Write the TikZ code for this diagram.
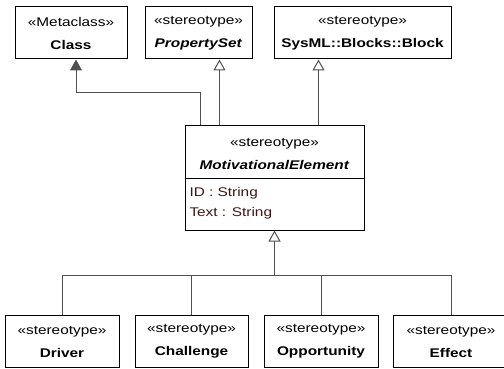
\documentclass[tikz,border=0pt]{standalone}
\usepackage{fontspec}
\setmainfont[FakeStretch=1.22]{Liberation Sans}
\usepackage{xcolor}
\usetikzlibrary{arrows.meta}
\definecolor{attrcol}{RGB}{64,20,20}
\definecolor{linecol}{RGB}{80,80,80}

\begin{document}
\begin{tikzpicture}[x=1pt, y=-1pt, line width=1pt,
    block/.style={draw, rectangle, minimum width=#1, minimum height=52pt, inner sep=0pt, align=center, font=\fontsize{12.6}{23}\selectfont},
    attr/.style={anchor=west, inner sep=0pt, text=attrcol, font=\fontsize{12.6}{14}\selectfont},
    gen/.style={-{Triangle[open, length=11pt, width=12pt]}, draw=linecol},
    ext/.style={-{Triangle[length=11pt, width=12pt]}, draw=linecol}]
    \useasboundingbox (0,0) rectangle (504,369);

    % Metaklassen und Stereotypen oben
    \node[block=112pt] (cls) at (71,33) {«Metaclass»\\\textbf{Class}};
    \node[block=107pt] (prop) at (198.5,33) {«stereotype»\\\textbf{\textit{PropertySet}}};
    \node[block=177pt] (blk) at (362.5,33) {«stereotype»\\\textbf{SysML::Blocks::Block}};

    % MotivationalElement mit Attributen
    \node[draw, rectangle, minimum width=179pt, minimum height=104pt] (motiv) at (274.5,178) {};
    \node[align=center, inner sep=0pt, font=\fontsize{12.6}{23}\selectfont] (motivname) at (274.5,153.5) {«stereotype»\\\textbf{\textit{MotivationalElement}}};
    \draw (motiv.west) -- (motiv.east);
    \node[attr] (idattr) at (189,193) {ID : String};
    \node[attr] (textattr) at (189,213) {Text : String};

    % Unterklassen
    \node[block=114pt] (drv) at (62,341.5) {«stereotype»\\\textbf{Driver}};
    \node[block=113pt] (chl) at (191.5,341.5) {«stereotype»\\\textbf{Challenge}};
    \node[block=114pt] (opp) at (321,341.5) {«stereotype»\\\textbf{Opportunity}};
    \node[block=116pt] (eff) at (451,341.5) {«stereotype»\\\textbf{Effect}};

    % Extension und Generalisierungen
    \coordinate (clsin) at ([xshift=16pt]motiv.north west);
    \coordinate (propin) at ([xshift=35pt]motiv.north west);
    \coordinate (blkin) at ([xshift=134pt]motiv.north west);
    \draw[ext] (clsin) -- ++(0,-33) -| ([xshift=5pt]cls.south);
    \draw[gen] (propin) -- (propin |- prop.south);
    \draw[gen] (blkin) -- (blkin |- blk.south);

    \coordinate (bus) at ([yshift=-45pt]motiv.south);
    \draw[gen] (bus) -- (motiv.south);
    \foreach \c in {drv, chl, opp, eff}
        \draw[draw=linecol] (\c.north) |- (bus);
\end{tikzpicture}
\end{document}
